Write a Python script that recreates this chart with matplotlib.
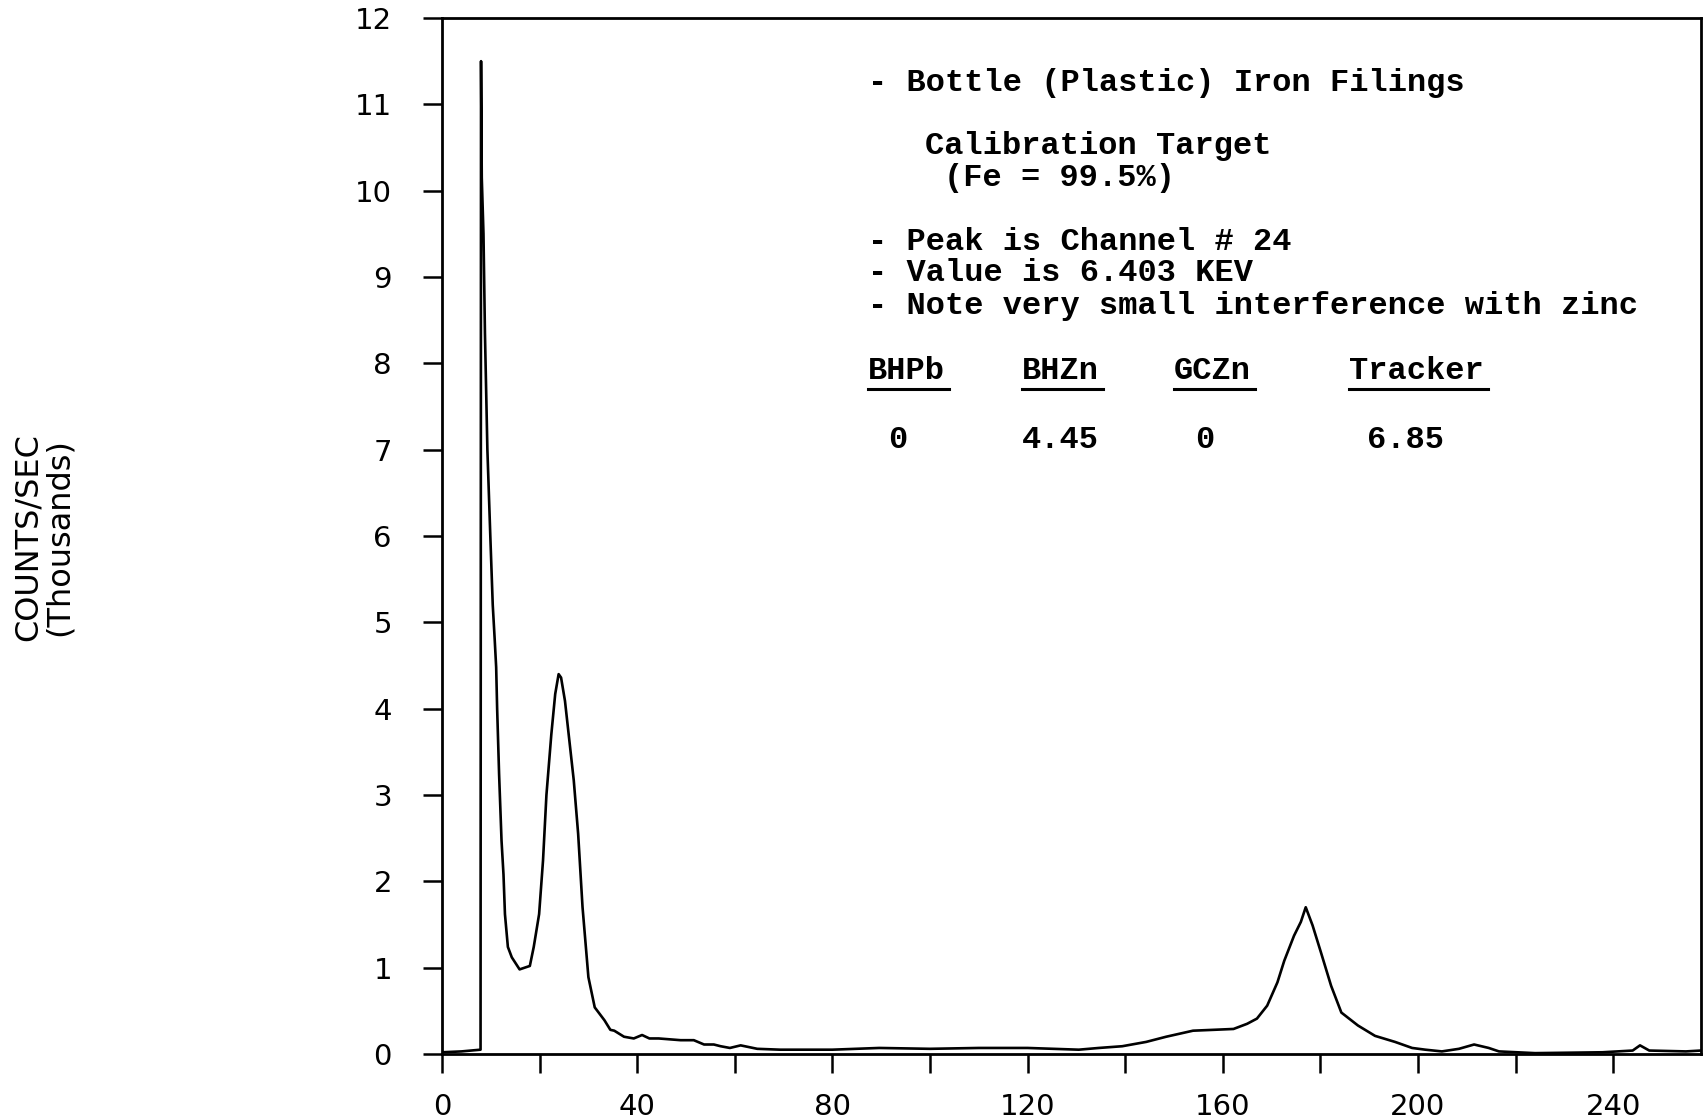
import matplotlib
matplotlib.use("Agg")
import matplotlib.pyplot as plt
from matplotlib.lines import Line2D

# ---------------- data ----------------
channel = [0, 4, 7.9, 8.0, 8.15, 8.5, 8.8, 9.3, 9.9, 10.4, 10.8, 11.1, 11.3, 11.7, 12.2,
           12.6, 12.9, 13.5, 14.3, 15.9, 18.0, 18.8, 19.9, 20.7, 21.4, 22.4, 23.2,
           23.9, 24.4, 25.2, 26.1, 27.0, 27.9, 28.8, 30.0, 31.3, 33.3, 34.5, 35.3,
           37.3, 39.3, 41.0, 42.5, 44.4, 48.9, 51.6, 53.7, 55.7, 57.1, 59.0, 61.2,
           64.6, 69.3, 75, 80, 89.6, 100, 110, 120, 130.5, 134.6, 139.4, 144.3,
           148.4, 153.9, 158.1, 162.2, 165, 167, 169.1, 171.2, 172.6, 174.6, 176,
           177, 178.4, 180.1, 182.2, 184.3, 187.7, 191.2, 195.3, 198.8, 201.5,
           204.9, 208.4, 211.5, 214.5, 216.6, 224, 237.8, 244, 245.5, 247.4, 254.9,
           258]
counts = [0.02, 0.03, 0.05, 11.5, 10.15, 9.5, 8.35, 7.0, 6.0, 5.2, 4.8, 4.48, 4.0, 3.24, 2.47,
          2.08, 1.62, 1.24, 1.12, 0.98, 1.02, 1.24, 1.62, 2.24, 3.0, 3.7, 4.17,
          4.4, 4.36, 4.09, 3.63, 3.17, 2.55, 1.70, 0.89, 0.54, 0.39, 0.28, 0.27,
          0.2, 0.18, 0.22, 0.18, 0.18, 0.16, 0.16, 0.11, 0.11, 0.09, 0.07, 0.1,
          0.06, 0.05, 0.05, 0.05, 0.07, 0.06, 0.07, 0.07, 0.05, 0.07, 0.09, 0.14,
          0.2, 0.27, 0.28, 0.29, 0.35, 0.41, 0.56, 0.83, 1.08, 1.37, 1.53,
          1.70, 1.49, 1.18, 0.79, 0.48, 0.33, 0.21, 0.14, 0.07, 0.05,
          0.03, 0.06, 0.11, 0.07, 0.03, 0.01, 0.02, 0.04, 0.10, 0.04, 0.03,
          0.04]

x_ticks = [0, 20, 40, 60, 80, 100, 120, 140, 160, 180, 200, 220, 240]
x_tick_labels = ["0", "", "40", "", "80", "", "120", "", "160", "", "200", "", "240"]
y_ticks = [0, 1, 2, 3, 4, 5, 6, 7, 8, 9, 10, 11, 12]
y_tick_labels = [str(v) for v in y_ticks]

header_names = ["BHPb", "BHZn", "GCZn", "Tracker"]
header_values = ["0", "4.45", "0", "6.85"]

notes_top = ["- Bottle (Plastic) Iron Filings"]
calib_lines = ["Calibration Target", "(Fe = 99.5%)"]
notes_mid = ["- Peak is Channel # 24",
             "- Value is 6.403 KEV",
             "- Note very small interference with zinc"]

# ---------------- figure ----------------
W, H = 1708, 1120
fig = plt.figure(figsize=(W / 100, H / 100), dpi=100)
fig.patch.set_facecolor("white")
ax = fig.add_axes([442 / W, 1 - 1054 / H, (1701 - 442) / W, (1054 - 18) / H])

ax.plot(channel, counts, color="black", lw=1.9, solid_joinstyle="round")
ax.set_xlim(0, 258)
ax.set_ylim(0, 12)
ax.set_xticks(x_ticks)
ax.set_xticklabels(x_tick_labels)
ax.set_yticks(y_ticks)
ax.set_yticklabels(y_tick_labels)
ax.tick_params(axis="both", direction="out", length=14, width=1.8,
               labelsize=21, colors="black")
ax.tick_params(axis="y", pad=22)
ax.tick_params(axis="x", pad=14)
for lab in ax.get_xticklabels() + ax.get_yticklabels():
    lab.set_fontfamily("DejaVu Sans")
for sp in ax.spines.values():
    sp.set_linewidth(2.0)
    sp.set_color("black")

# y label (two lines, rotated)
fig.text(28 / W, 1 - 537 / H, "COUNTS/SEC", rotation=90, ha="center", va="center",
         fontsize=23, family="DejaVu Sans")
fig.text(59 / W, 1 - 537 / H, "(Thousands)", rotation=90, ha="center", va="center",
         fontsize=23, family="DejaVu Sans")

mono = dict(family="Liberation Mono", weight="bold", fontsize=23, color="black",
            va="center", ha="left")

def ftext(xp, yp, s):
    return fig.text(xp / W, 1 - yp / H, s, **mono)

ftext(868, 83, notes_top[0])
ftext(925, 146, calib_lines[0])
ftext(944, 178, calib_lines[1])
for i, s in enumerate(notes_mid):
    ftext(868, [242, 273, 306][i], s)

header_x = [868, 1022, 1174, 1349]
value_x = [888, 1022, 1195, 1367]
hdr_texts = [ftext(x, 371, s) for x, s in zip(header_x, header_names)]
for x, s in zip(value_x, header_values):
    ftext(x, 440, s)

# underline the headers
fig.canvas.draw()
renderer = fig.canvas.get_renderer()
for t in hdr_texts:
    bb = t.get_window_extent(renderer)
    y_line = (H - 389) / H
    fig.add_artist(Line2D([bb.x0 / W, (bb.x1 + 4) / W], [y_line, y_line],
                          transform=fig.transFigure, color="black", lw=2.2))

fig.savefig("out.png", dpi=100, facecolor="white")
